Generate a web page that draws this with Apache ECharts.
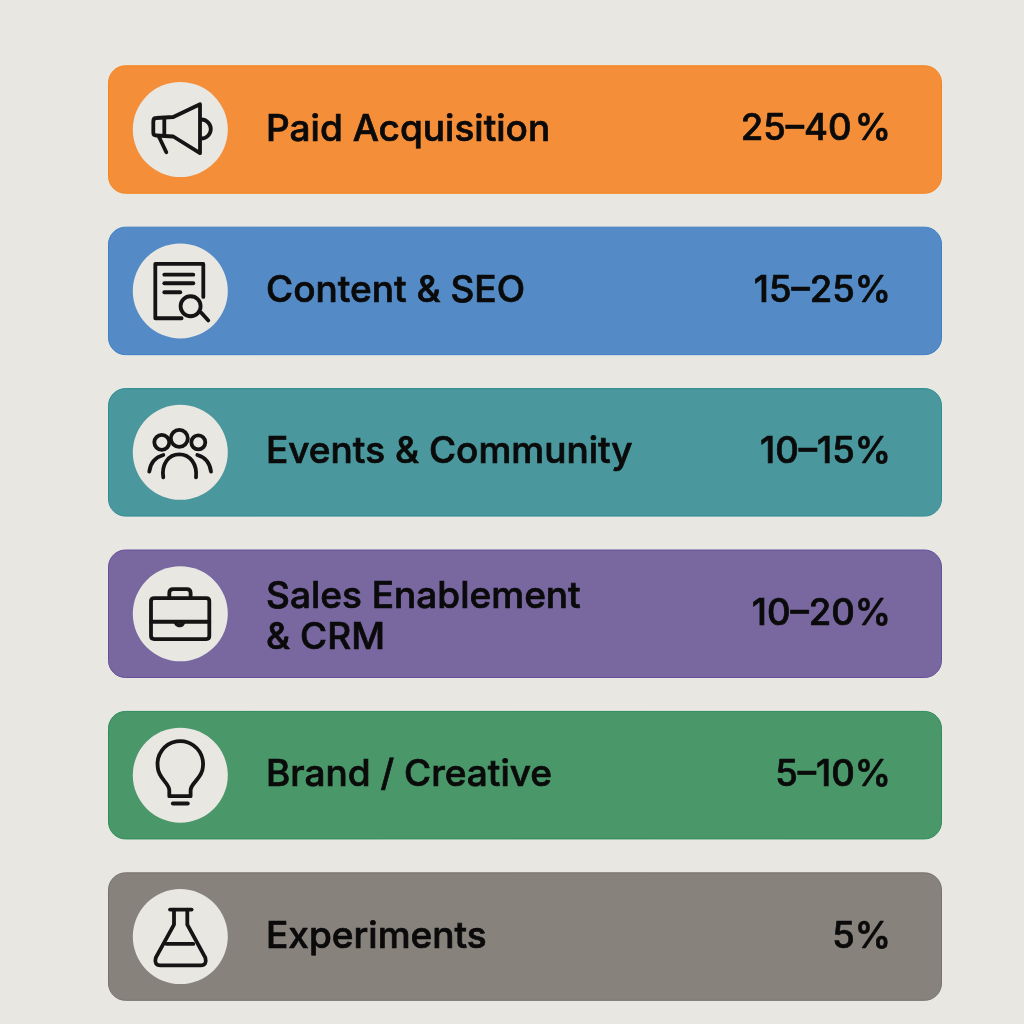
<!DOCTYPE html>
<html><head><meta charset="utf-8">
<style>html,body{margin:0;padding:0;background:#e8e7e2}#c{width:1024px;height:1024px}</style>
<script src="https://cdn.jsdelivr.net/npm/echarts@6/dist/echarts.min.js"></script>
</head><body><div id="c"></div>
<script>
const categories = ['Paid Acquisition','Content & SEO','Events & Community','Sales Enablement\n& CRM','Brand / Creative','Experiments'];
const shares = ['25–40\u200a%','15–25%','10–15%','10–20%','5–10%','5%'];
const cardSpan = [834,834,834,834,834,834];
const cardColors = ['#f58e39','#548bc6','#4a979d','#7967a0','#4a9869','#87827c'];
const cardEdges = ['#f5841f','#3f80c4','#2f8d95','#66509a','#2f8d5c','#77726c'];
const iconPaths = [
 ['M-27 -8Q-27 -11.5 -24 -11.5L-7 -12.5L19.7 -25.3V23.7L-7 7L-24 6Q-27 6 -27 3Z','M-16 -11V6','M-21 8L-14 22.7','M21 -10A9.5 9.5 0 0 1 21 9'],
 ['M1.3 27.3H-25V-27H23V6','M-16 -16.3H13','M-16 -7.7H13','M-16 1.3H0','M20.3 15.3A10 10 0 1 1 0.3 15.3A10 10 0 1 1 20.3 15.3','M21 21.8L28 29.5'],
 ['M7.5 -14A8.5 8.5 0 1 1 -9.5 -14A8.5 8.5 0 1 1 7.5 -14','M-11 -10A7.5 7.5 0 1 1 -26 -10A7.5 7.5 0 1 1 -11 -10','M25 -10A7 7 0 1 1 11 -10A7 7 0 1 1 25 -10','M-17 25C-19 12 -12 2 -1 2C10 2 17 12 15.7 25','M-31 19.3C-30 11 -25 5 -17 2.7','M30.7 19.3C29.7 11 25 5 17 2.7'],
 ['M-26 -15.7H26Q29 -15.7 29 -12.7V22.3Q29 25.3 26 25.3H-26Q-29.3 25.3 -29.3 22.3V-12.7Q-29.3 -15.7 -26 -15.7Z','M-11 -15.7V-21Q-11 -24.7 -7 -24.7H6.5Q10.3 -24.7 10.3 -21V-15.7','M-29.3 8H29','M-4.5 9A4 4 0 0 0 3 9'],
 ['M-11 21V15C-11 8 -22 3 -22.5 -7.5A22.8 22.8 0 1 1 22.5 -7.5C22 3 10.3 8 10.3 15V21Z','M-7.5 28.3H7.5'],
 ['M-10.3 -27H11.3','M-6.3 -27V-12L-24.5 21Q-26.5 28.7 -20 28.7H20.5Q27 28.7 25 21L7 -12V-27','M-13.7 7.3H13']
];
const chart = echarts.init(document.getElementById('c'),null,{renderer:'canvas'});
const FONT='Inter';
chart.setOption({
 animation:false,
 backgroundColor:'#e8e7e2',
 grid:{left:108,width:834,top:48.8,height:968.5},
 xAxis:{type:'value',min:0,max:834,show:false},
 yAxis:{type:'category',inverse:true,data:categories,show:false},
 series:[
  {type:'bar',barWidth:128.5,silent:true,
   data:cardSpan.map((v,i)=>({value:v,itemStyle:{color:cardColors[i],borderColor:cardEdges[i],borderWidth:1,borderRadius:17},
     label:{offset:[0,categories[i].includes('\n')?4:0]}})),
   label:{show:true,position:[158,'50%'],verticalAlign:'middle',align:'left',formatter:p=>p.name,color:'#0a0a0a',fontFamily:FONT,fontSize:37,fontWeight:500,lineHeight:41,textBorderColor:'#0a0a0a',textBorderWidth:0.7}},
  {type:'scatter',silent:true,z:3,symbol:'circle',symbolSize:95,
   data:categories.map((c,i)=>[72.3,i]),
   itemStyle:{color:'#e8e7e2',opacity:1}},
  {type:'custom',silent:true,z:4,
   data:categories.map((c,i)=>[72.3,i]),
   renderItem:(params,api)=>{
     const p=api.coord([api.value(0),api.value(1)]);
     return {type:'group',x:p[0],y:p[1],children:iconPaths[params.dataIndex].map(d=>({type:'path',shape:{pathData:d},
       style:{fill:'none',stroke:'#141414',lineWidth:3.8,lineCap:'round',lineJoin:'round'}}))};
   }},
  {type:'custom',silent:true,z:4,
   data:shares.map((s,i)=>[783,i]),
   renderItem:(params,api)=>{
     const p=api.coord([api.value(0),api.value(1)]);
     return {type:'text',x:p[0],y:p[1],style:{text:shares[params.dataIndex],align:'right',verticalAlign:'middle',fill:'#0a0a0a',stroke:'#0a0a0a',lineWidth:0.7,font:'500 36.5px '+FONT}};
   }}
 ]
});
</script></body></html>
